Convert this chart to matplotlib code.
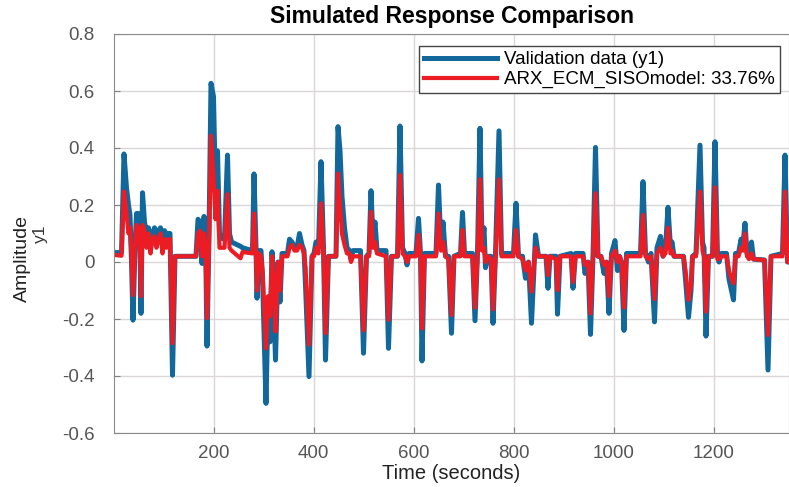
import matplotlib
matplotlib.use("Agg")
import matplotlib.pyplot as plt

plt.rcParams['font.family'] = ['Liberation Sans', 'DejaVu Sans']

# time (s), validation data y1, ARX model output
time = [0, 16, 21, 26, 30, 33, 36, 39, 43, 46, 50, 53, 55, 58, 62, 66, 70, 74, 78, 82,
        86, 90, 94, 98, 102, 106, 110, 113, 118, 123, 165, 169, 173, 177, 181, 184, 187, 191, 195, 200,
        204, 208, 212, 216, 222, 228, 232, 236, 254, 258, 278, 281, 285, 287, 291, 295, 298, 305, 309, 313,
        317, 320, 324, 329, 333, 337, 348, 352, 357, 362, 367, 372, 377, 381, 384, 391, 397, 401, 405, 410,
        415, 420, 424, 430, 445, 449, 453, 457, 462, 467, 472, 475, 479, 494, 500, 506, 511, 515, 519, 523,
        527, 545, 550, 556, 568, 573, 578, 583, 587, 591, 605, 610, 614, 617, 622, 645, 650, 655, 659, 664,
        670, 676, 681, 694, 698, 702, 718, 723, 728, 733, 737, 741, 744, 749, 755, 759, 764, 771, 776, 800,
        805, 810, 818, 824, 830, 836, 844, 850, 865, 869, 873, 885, 888, 893, 915, 919, 924, 939, 943, 949,
        954, 959, 964, 969, 975, 981, 986, 991, 996, 1003, 1008, 1012, 1016, 1021, 1026, 1054, 1059, 1064, 1070, 1075,
        1082, 1087, 1094, 1099, 1104, 1109, 1114, 1117, 1121, 1140, 1144, 1150, 1155, 1158, 1165, 1173, 1178, 1181, 1185, 1190,
        1198, 1203, 1208, 1211, 1216, 1226, 1231, 1236, 1240, 1244, 1250, 1255, 1259, 1263, 1267, 1271, 1276, 1280, 1302, 1309,
        1315, 1338, 1343, 1348, 1352]

validation = [0.033, 0.033, 0.379, 0.26, 0.2, 0.165, 0.0, -0.204, 0.05, 0.17, 0.17, 0.05, -0.18, 0.243, 0.14, 0.1, 0.12, 0.05, 0.1, 0.12,
              0.09, 0.11, 0.12, 0.08, 0.11, 0.09, 0.1, 0.1, -0.397, 0.02, 0.02, 0.15, 0.14, -0.005, 0.16, 0.1, -0.295, 0.1, 0.627, 0.58,
              0.25, 0.39, 0.1, 0.083, 0.08, 0.375, 0.1, 0.07, 0.055, 0.05, 0.04, 0.309, 0.05, -0.127, 0.04, 0.04, -0.05, -0.496, -0.15, -0.28,
              0.036, -0.1, -0.344, 0.0, -0.14, 0.03, 0.03, 0.08, 0.07, 0.05, 0.05, 0.1, 0.06, 0.04, -0.08, -0.402, 0.02, 0.03, 0.07, 0.05,
              0.352, 0.05, -0.344, 0.02, 0.02, 0.475, 0.39, 0.23, 0.12, 0.05, 0.04, 0.01, 0.04, 0.04, -0.32, 0.02, 0.03, 0.25, 0.08, 0.14,
              0.04, 0.04, -0.303, 0.02, 0.02, 0.477, 0.05, 0.03, -0.01, 0.03, 0.03, 0.153, 0.03, -0.347, 0.03, 0.03, 0.27, 0.05, 0.14, 0.02,
              0.02, -0.25, 0.02, 0.03, 0.174, 0.03, 0.03, -0.206, 0.03, 0.469, 0.06, 0.12, -0.02, 0.02, 0.02, -0.215, 0.03, 0.46, 0.03, 0.03,
              0.206, 0.02, 0.02, -0.057, 0.0, -0.215, 0.095, 0.02, 0.02, -0.092, 0.02, 0.02, -0.183, 0.02, 0.03, -0.092, 0.03, 0.03, -0.04, 0.0,
              -0.254, 0.02, 0.402, 0.02, 0.02, -0.04, 0.0, -0.18, 0.03, 0.075, -0.03, 0.02, 0.0, -0.24, 0.03, 0.03, 0.282, 0.03, 0.0, 0.03,
              -0.21, 0.05, 0.09, 0.02, 0.05, 0.192, 0.05, 0.07, 0.02, 0.02, -0.06, -0.194, -0.1, 0.02, 0.03, 0.41, 0.07, 0.05, -0.26, 0.02,
              0.02, 0.422, 0.02, 0.0, 0.03, 0.03, -0.06, -0.1, -0.133, 0.03, 0.03, 0.08, 0.06, 0.136, 0.03, 0.02, 0.07, 0.01, 0.007, -0.379,
              0.02, 0.03, 0.375, 0.0, 0.0]

model = [0.025, 0.022, 0.247, 0.17, 0.1, 0.12, 0.02, -0.116, 0.05, 0.13, 0.12, 0.04, -0.12, 0.13, 0.11, 0.05, 0.1, 0.03, 0.08, 0.09,
         0.05, 0.08, 0.1, 0.03, 0.08, 0.05, 0.08, 0.08, -0.285, 0.02, 0.02, 0.1, 0.11, 0.02, 0.1, 0.05, -0.197, 0.05, 0.443, 0.3,
         0.15, 0.25, 0.05, 0.05, 0.05, 0.238, 0.05, 0.04, 0.013, 0.035, 0.03, 0.17, 0.02, -0.1, 0.03, 0.02, -0.03, -0.303, -0.12, -0.19,
         0.02, -0.05, -0.244, 0.0, -0.1, 0.02, 0.02, 0.05, 0.06, 0.04, 0.04, 0.06, 0.05, 0.03, -0.02, -0.29, 0.02, 0.02, 0.05, 0.03,
         0.206, 0.03, -0.25, 0.02, 0.02, 0.31, 0.2, 0.1, 0.06, 0.03, 0.03, 0.0, 0.02, 0.02, -0.24, 0.02, 0.02, 0.176, 0.05, 0.07,
         0.03, 0.02, -0.203, 0.02, 0.02, 0.305, 0.03, 0.02, 0.0, 0.02, 0.02, 0.095, 0.02, -0.233, 0.02, 0.02, 0.17, 0.04, 0.07, 0.02,
         0.01, -0.186, 0.02, 0.02, 0.112, 0.02, 0.02, -0.16, 0.02, 0.29, 0.04, 0.05, 0.0, 0.02, 0.01, -0.166, 0.02, 0.29, 0.02, 0.02,
         0.112, 0.02, 0.01, -0.03, 0.0, -0.104, 0.05, 0.02, 0.02, -0.046, 0.02, 0.01, -0.099, 0.02, 0.02, -0.07, 0.02, 0.02, -0.01, 0.0,
         -0.18, 0.02, 0.241, 0.02, 0.02, -0.01, 0.0, -0.12, 0.02, 0.04, 0.0, 0.02, 0.0, -0.16, 0.02, 0.02, 0.165, 0.02, 0.01, 0.02,
         -0.13, 0.03, 0.05, 0.02, 0.03, 0.12, 0.03, 0.04, 0.02, 0.02, -0.03, -0.133, -0.08, 0.02, 0.02, 0.247, 0.04, 0.02, -0.174, 0.02,
         0.02, 0.262, 0.01, 0.01, 0.02, 0.02, -0.03, -0.06, -0.075, 0.02, 0.02, 0.05, 0.04, 0.1, 0.02, 0.01, 0.03, 0.01, 0.007, -0.256,
         0.02, 0.02, 0.247, 0.0, 0.0]

fit_pct = 33.76

fig = plt.figure(figsize=(7.89, 4.87), dpi=100)
ax = fig.add_axes([114 / 789, 54 / 487, 675 / 789, 399 / 487])

ax.plot(time, validation, color='#12679b', lw=3.6, label='Validation data (y1)')
ax.plot(time, model, color='#ec1c24', lw=3.0, label='ARX_ECM_SISOmodel: %.2f%%' % fit_pct)

ax.set_xlim(1, 1351)
ax.set_ylim(-0.6, 0.8)
ax.set_xticks([200, 400, 600, 800, 1000, 1200])
ax.set_yticks([-0.6, -0.4, -0.2, 0, 0.2, 0.4, 0.6, 0.8])
ax.set_yticklabels(['-0.6', '-0.4', '-0.2', '0', '0.2', '0.4', '0.6', '0.8'])
ax.grid(True, color='#dbd7d7', lw=1.0)
ax.set_axisbelow(True)
ax.tick_params(direction='in', length=4, colors='#808080', labelcolor='#555555', labelsize=13.5)
ax.tick_params(axis='y', pad=14)
ax.tick_params(axis='x', pad=9)
for s in ax.spines.values():
    s.set_color('#8a8a8a')

ax.set_title('Simulated Response Comparison', fontsize=16.5, fontweight='bold', pad=8)
ax.set_xlabel('Time (seconds)', fontsize=14.5, color='#222222', labelpad=1)
ax.set_ylabel('y1', fontsize=12.5, color='#333333')
ax.yaxis.set_label_coords(-66 / 675, 0.5)
fig.text(22 / 789, 1 - 258 / 487, 'Amplitude', rotation=90, fontsize=14,
         color='#222222', ha='center', va='center')

leg = ax.legend(loc='upper right', bbox_to_anchor=(1.0, 1 - 3 / 399), fontsize=13.5,
                handlelength=3.9, fancybox=False, framealpha=1, borderaxespad=0.5,
                labelspacing=0.15, borderpad=0.25, handletextpad=0.4)
leg.get_frame().set_edgecolor('#444444')
leg.get_frame().set_linewidth(1.0)

fig.savefig('out.png', dpi=100)
